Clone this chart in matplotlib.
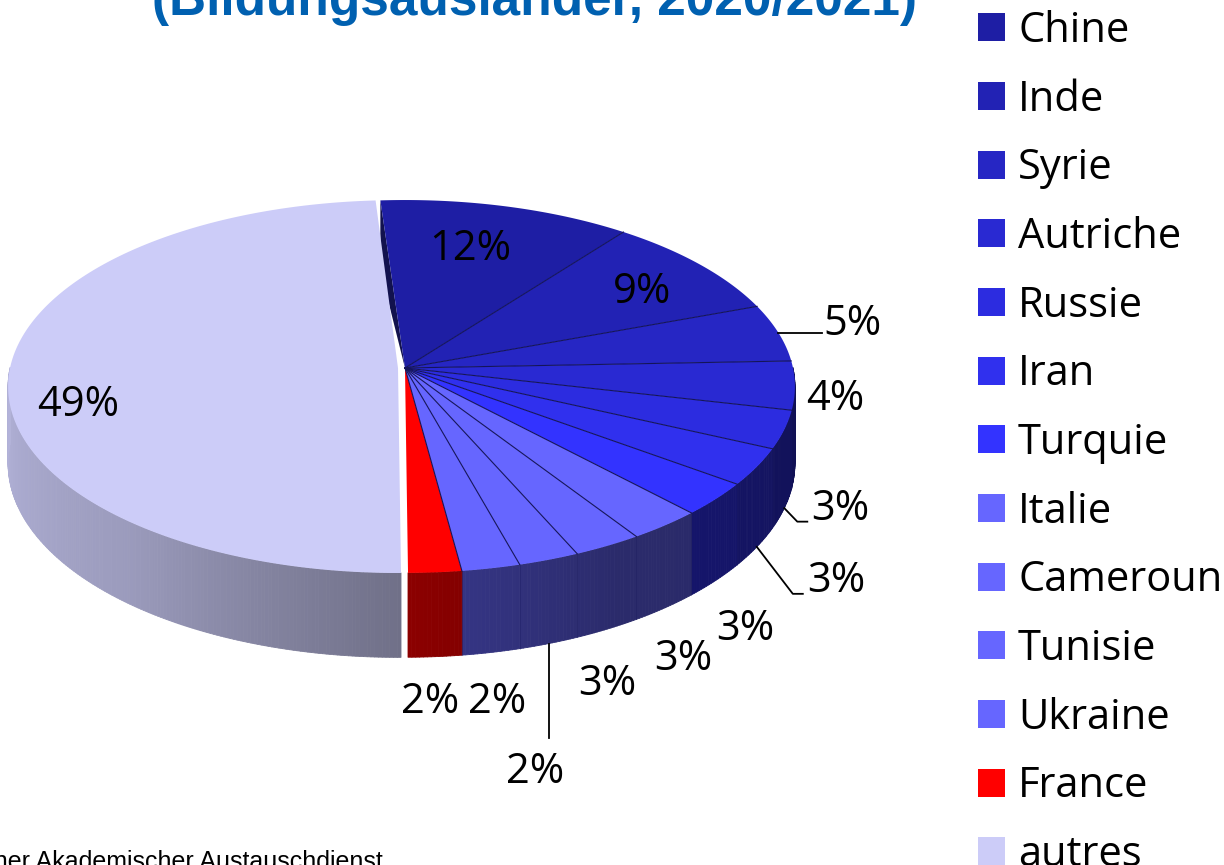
import numpy as np
import matplotlib.pyplot as plt
from matplotlib.collections import PolyCollection
from matplotlib.patches import Patch
from matplotlib.colors import to_rgb

countries = ['Chine', 'Inde', 'Syrie', 'Autriche', 'Russie', 'Iran', 'Turquie',
             'Italie', 'Cameroun', 'Tunisie', 'Ukraine', 'France', 'autres']
shares = [11.5, 9.0, 5.0, 4.2, 3.3, 3.2, 2.9, 2.8, 2.6, 2.3, 2.2, 2.0, 49.1]
pct_labels = ['12%', '9%', '5%', '4%', '3%', '3%', '3%', '3%', '3%', '2%', '2%', '2%', '49%']
colors = ['#1e1ea4', '#2222b4', '#2626c4', '#2929d2', '#2c2ce0', '#3030ee', '#3333ff',
          '#6666ff', '#6666ff', '#6666ff', '#6666ff', '#ff0000', '#ccccf8']

title = '(Bildungsausländer, 2020/2021)'
source = 'Deutscher Akademischer Austauschdienst'

# layout of the 3d pie (pixel units)
CX, CY = 405, 368
RX, RY = 388, 184.6
PERSP = 0.099
DEPTH = 76
START = 94.0
EXPLODE = 7.0
# label offsets from the top rim point of each slice, and leader style
label_off = [(-37, 38), (-58, 23), (74, -13), (40, 10), (56, 75), (79, 110), (29, 126),
             (18, 130), (0, 134), (-14, 208), (6, 130), (-5, 126), (69, 26)]
leader = [None, None, 'h', None, 'e', 'e', None, None, None, 'v', None, None, None]


def proj(theta, r=1.0, z=0.0, off=(0.0, 0.0)):
    t = np.radians(theta)
    s = 1.0 / (1.0 + PERSP * r * np.sin(t))
    x = CX + off[0] + RX * r * np.cos(t) * s
    y = CY + off[1] - (RY * r * np.sin(t) + DEPTH * z) * s
    return x, y


def shade(theta):
    t = ((theta + 180.0) % 360.0) - 180.0
    return np.interp(t, [-180, -130, -90, -60, 0], [0.88, 0.76, 0.55, 0.42, 0.40])


bounds = START - np.concatenate([[0], np.cumsum(shares)]) * 3.6
mids = (bounds[:-1] + bounds[1:]) / 2
last = len(shares) - 1
em = np.radians(mids[last])
expl = (EXPLODE * np.cos(em), -EXPLODE * np.sin(em) * RY / RX)
offsets = [(0.0, 0.0)] * last + [expl]

fig = plt.figure(figsize=(12.24, 8.65), dpi=100)
ax = fig.add_axes([0, 0, 1, 1])
ax.set_xlim(0, 1224)
ax.set_ylim(865, 0)
ax.axis('off')


def side_polys(i):
    a0, a1 = bounds[i], bounds[i + 1]
    n = max(int(abs(a0 - a1) / 0.5), 2)
    th = np.linspace(a0, a1, n + 1)
    polys, cols = [], []
    base = np.array(to_rgb(colors[i]))
    for t0, t1 in zip(th[:-1], th[1:]):
        tm = (t0 + t1) / 2
        if np.sin(np.radians(tm)) >= 0:
            continue
        p0 = proj(t0, 1, 0, offsets[i])
        p1 = proj(t1, 1, 0, offsets[i])
        q1 = proj(t1, 1, -1, offsets[i])
        q0 = proj(t0, 1, -1, offsets[i])
        polys.append([p0, p1, q1, q0])
        cols.append(np.clip(base * shade(tm), 0, 1))
    return polys, cols


def top_poly(i):
    th = np.linspace(bounds[i], bounds[i + 1], 200)
    xs, ys = proj(th, 1, 0, offsets[i])
    c = proj(0, 0, 0, offsets[i])
    return [c] + list(zip(xs, ys))


# wall of the first slice seen through the gap
c0 = proj(0, 0, 0)
w_top = proj(START, 1, 0)
w_bot = proj(START, 1, -1)
ax.add_patch(plt.Polygon([c0, w_top, w_bot], closed=True, facecolor='#12124e', edgecolor='none'))

# sides of the main pie
for i in range(last):
    polys, cols = side_polys(i)
    if polys:
        ax.add_collection(PolyCollection(polys, facecolors=cols, edgecolors=cols, linewidths=0.6))

# top faces of the main pie
for i in range(last):
    ax.add_patch(plt.Polygon(top_poly(i), closed=True, facecolor=colors[i], edgecolor='none'))
for b in bounds[1:last]:
    x, y = proj(b, 1, 0)
    ax.plot([c0[0], x], [c0[1], y], color='#14145a', lw=0.8)
    xb, yb = proj(b, 1, -1)
    if np.sin(np.radians(b)) < 0:
        ax.plot([x, xb], [y, yb], color='#14145a', lw=0.4, alpha=0.5)

# exploded slice
polys, cols = side_polys(last)
ax.add_collection(PolyCollection(polys, facecolors=cols, edgecolors=cols, linewidths=0.6))
ax.add_patch(plt.Polygon(top_poly(last), closed=True, facecolor=colors[last], edgecolor='none'))

# data labels
for i, lab in enumerate(pct_labels):
    ax_, ay_ = proj(mids[i], 1, 0, offsets[i])
    tx, ty = ax_ + label_off[i][0], ay_ + label_off[i][1]
    ax.text(tx, ty + 15, lab, ha='center', va='baseline', fontsize=30,
            family='Open Sans', color='black')
    if leader[i] == 'h':
        ax.plot([ax_, tx - 30], [ay_, ay_], color='black', lw=1.3)
    elif leader[i] == 'e':
        sx, sy = proj(mids[i], 1, -1)
        ax.plot([sx, tx - 43, tx - 33], [sy, ty + 17, ty + 17], color='black', lw=1.3)
    elif leader[i] == 'v':
        sx, sy = proj(mids[i], 1, -1)
        ax.plot([sx, sx], [sy, ty - 30], color='black', lw=1.3)

handles = [Patch(facecolor=c, edgecolor='none', label=n) for n, c in zip(countries, colors)]
fig.legend(handles=handles, loc='upper left', bbox_to_anchor=(978 / 1224, 1 - 10 / 865),
           frameon=False, borderpad=0, borderaxespad=0, handlelength=0.65,
           handleheight=0.65, handletextpad=0.31, labelspacing=0.64,
           prop={'family': 'Open Sans', 'size': 30})

fig.text(535 / 1224, 1 - 15 / 865, title, ha='center', va='baseline', fontsize=37,
         fontweight='bold', color='#0060b0', family='Liberation Sans')
fig.text(383 / 1224, 1 - 869 / 865, source, ha='right', va='baseline', fontsize=18,
         color='black', family='Liberation Sans')

fig.savefig('out.png', dpi=100)
